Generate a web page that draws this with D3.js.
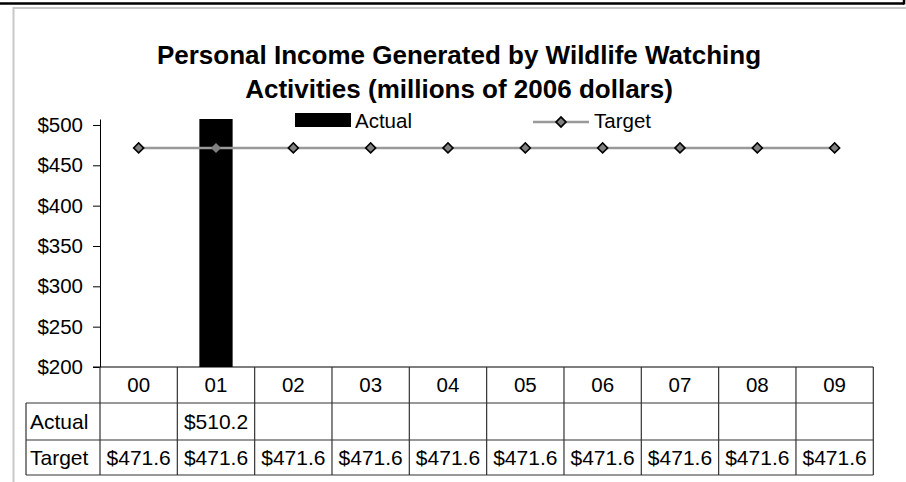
<!DOCTYPE html>
<html>
<head>
<meta charset="utf-8">
<script src="https://cdn.jsdelivr.net/npm/d3@7"></script>
<style>
  html, body { margin: 0; padding: 0; background: #fff; }
  svg { display: block; font-family: "Liberation Sans", Arial, sans-serif; }
</style>
</head>
<body>
<svg id="chart" width="906" height="482"></svg>
<script>
// ---- data ----
const titleLines = ["Personal Income Generated by Wildlife Watching", "Activities (millions of 2006 dollars)"];
const categories = ["00", "01", "02", "03", "04", "05", "06", "07", "08", "09"];
const actual = [null, 510.2, null, null, null, null, null, null, null, null];
const target = [471.6, 471.6, 471.6, 471.6, 471.6, 471.6, 471.6, 471.6, 471.6, 471.6];
const yTicks = [200, 250, 300, 350, 400, 450, 500];
const yDomain = [200, 507.4];
const seriesNames = ["Actual", "Target"];

// ---- layout ----
const svg = d3.select("#chart");
const W = 906, H = 482;
const plot = { left: 100, right: 873.3, top: 119, bottom: 367 };
const rowH = [36, 37, 35]; // category row, actual row, target row
const tableLeft = 26;

// frame
svg.append("line").attr("x1", 0).attr("x2", 904).attr("y1", 3.5).attr("y2", 3.5)
  .attr("stroke", "#000").attr("stroke-width", 2.5);
svg.append("line").attr("x1", 904).attr("x2", 904).attr("y1", 0).attr("y2", 4.5)
  .attr("stroke", "#000").attr("stroke-width", 2.5);
svg.append("path").attr("d", `M13.5,${H} L13.5,8 L${W},8`)
  .attr("fill", "none").attr("stroke", "#c8c8c8").attr("stroke-width", 2);

// title
const title = svg.append("text").attr("text-anchor", "middle")
  .attr("font-weight", "bold").attr("font-size", 26).attr("fill", "#000");
titleLines.forEach((t, i) => {
  title.append("tspan").attr("x", 459).attr("y", 64 + i * 34).text(t);
});

// scales
const x = d3.scaleBand().domain(categories).range([plot.left, plot.right]).padding(0);
const y = d3.scaleLinear().domain(yDomain).range([plot.bottom, plot.top]);
const barW = x.bandwidth() * 0.43;

// clip
svg.append("clipPath").attr("id", "plotclip").append("rect")
  .attr("x", plot.left).attr("y", plot.top)
  .attr("width", plot.right - plot.left).attr("height", plot.bottom - plot.top);

// bars
svg.append("g").attr("clip-path", "url(#plotclip)")
  .selectAll("rect").data(categories.map((c, i) => ({ c, v: actual[i] })).filter(d => d.v != null))
  .join("rect")
  .attr("x", d => x(d.c) + (x.bandwidth() - barW) / 2)
  .attr("width", barW)
  .attr("y", d => y(d.v))
  .attr("height", d => plot.bottom - y(d.v))
  .attr("fill", "#000");

// y axis
const yAxis = d3.axisLeft(y).tickValues(yTicks).tickFormat(d => "$" + d)
  .tickSize(7).tickSizeOuter(0).tickPadding(10);
const gy = svg.append("g").attr("transform", `translate(${plot.left},0)`).call(yAxis);
gy.selectAll("text").attr("font-size", 20.5).attr("fill", "#000")
  .attr("font-family", "'Liberation Sans', Arial, sans-serif");
gy.selectAll("line, path").attr("stroke", "#000");

// target line + markers
const line = d3.line().x((d, i) => x(categories[i]) + x.bandwidth() / 2).y(d => y(d));
svg.append("path").datum(target).attr("d", line)
  .attr("fill", "none").attr("stroke", "#999").attr("stroke-width", 2.5);
const diamond = d3.symbol(d3.symbolSquare, 50);
svg.append("g").selectAll("path").data(target).join("path")
  .attr("d", diamond)
  .attr("transform", (d, i) => `translate(${x(categories[i]) + x.bandwidth() / 2},${y(d)}) rotate(45)`)
  .attr("fill", "#808080")
  .attr("stroke", (d, i) => actual[i] != null && actual[i] > d ? "none" : "#000")
  .attr("stroke-width", 1.6);

// legend
const lg = svg.append("g");
lg.append("rect").attr("x", 295).attr("y", 113).attr("width", 56).attr("height", 14).attr("fill", "#000");
lg.append("text").attr("x", 355).attr("y", 128).attr("font-size", 20.5).text(seriesNames[0]);
lg.append("line").attr("x1", 533).attr("x2", 589).attr("y1", 122).attr("y2", 122)
  .attr("stroke", "#999").attr("stroke-width", 2.5);
lg.append("path").attr("d", diamond).attr("transform", "translate(561,122) rotate(45)")
  .attr("fill", "#808080").attr("stroke", "#000").attr("stroke-width", 1.6);
lg.append("text").attr("x", 594).attr("y", 128).attr("font-size", 20.5).text(seriesNames[1]);

// data table
const tg = svg.append("g");
const r0 = plot.bottom, r1 = r0 + rowH[0], r2 = r1 + rowH[1], r3 = r2 + rowH[2];
const gridColor = "#333";
tg.append("line").attr("x1", plot.left - 7).attr("x2", plot.right).attr("y1", r0).attr("y2", r0)
  .attr("stroke", "#000").attr("stroke-width", 1.2);
[r1, r2, r3].forEach(yy => {
  tg.append("line").attr("x1", tableLeft).attr("x2", plot.right).attr("y1", yy).attr("y2", yy)
    .attr("stroke", gridColor).attr("stroke-width", 1.2);
});
tg.append("line").attr("x1", tableLeft).attr("x2", tableLeft).attr("y1", r1).attr("y2", r3)
  .attr("stroke", gridColor).attr("stroke-width", 1.2);
categories.forEach(c => {
  tg.append("line").attr("x1", x(c)).attr("x2", x(c)).attr("y1", r0).attr("y2", r3)
    .attr("stroke", gridColor).attr("stroke-width", 1.2);
});
tg.append("line").attr("x1", plot.right).attr("x2", plot.right).attr("y1", r0).attr("y2", r3)
  .attr("stroke", gridColor).attr("stroke-width", 1.2);

// category labels
tg.selectAll("text.cat").data(categories).join("text").attr("class", "cat")
  .attr("x", d => x(d) + x.bandwidth() / 2).attr("y", (r0 + r1) / 2)
  .attr("dy", "0.36em").attr("text-anchor", "middle").attr("font-size", 20.5).text(d => d);
[[seriesNames[0], (r1 + r2) / 2], [seriesNames[1], (r2 + r3) / 2]].forEach(([t, yy]) => {
  tg.append("text").attr("x", 30).attr("y", yy).attr("dy", "0.36em").attr("font-size", 21).text(t);
});
const fmt = v => "$" + d3.format(".1f")(v);
tg.selectAll("text.act").data(categories.map((c, i) => ({ c, v: actual[i] })).filter(d => d.v != null))
  .join("text").attr("class", "act")
  .attr("x", d => x(d.c) + x.bandwidth() / 2).attr("y", (r1 + r2) / 2).attr("dy", "0.36em")
  .attr("text-anchor", "middle").attr("font-size", 21).text(d => fmt(d.v));
tg.selectAll("text.tgt").data(categories.map((c, i) => ({ c, v: target[i] })))
  .join("text").attr("class", "tgt")
  .attr("x", d => x(d.c) + x.bandwidth() / 2).attr("y", (r2 + r3) / 2).attr("dy", "0.36em")
  .attr("text-anchor", "middle").attr("font-size", 21).text(d => fmt(d.v));
</script>
</body>
</html>
